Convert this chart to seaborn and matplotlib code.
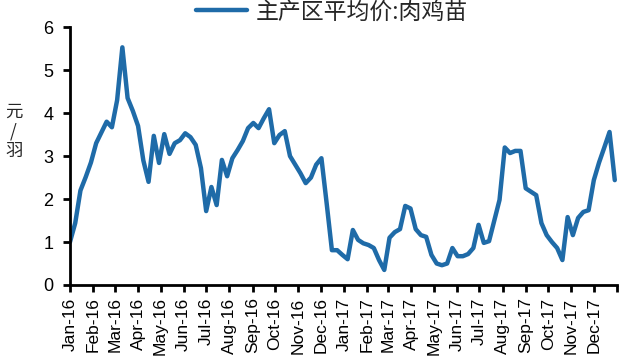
import pandas as pd
import numpy as np
import matplotlib
matplotlib.use('Agg')
import matplotlib.pyplot as plt
import matplotlib.dates as mdates
import seaborn as sns

# weekly price of broiler chicks, yuan per bird
start_date = '2016-01-01'
series_name = '主产区平均价:肉鸡苗'
price = [1.0, 1.44, 2.2, 2.51, 2.85, 3.3, 3.55, 3.8, 3.67, 4.3,
         5.53, 4.35, 4.05, 3.7, 2.9, 2.4, 3.47, 2.84, 3.51, 3.05,
         3.3, 3.37, 3.53, 3.44, 3.26, 2.72, 1.72, 2.28, 1.86, 2.91,
         2.53, 2.95, 3.14, 3.35, 3.65, 3.77, 3.65, 3.88, 4.09, 3.3,
         3.49, 3.58, 3.0, 2.8, 2.6, 2.37, 2.5, 2.8, 2.95, 1.9,
         0.81, 0.81, 0.7, 0.6, 1.28, 1.05, 0.97, 0.93, 0.86, 0.58,
         0.35, 1.1, 1.23, 1.3, 1.84, 1.78, 1.3, 1.16, 1.12, 0.7,
         0.5, 0.46, 0.5, 0.86, 0.67, 0.67, 0.72, 0.86, 1.4, 0.98,
         1.02, 1.5, 1.98, 3.2, 3.07, 3.12, 3.12, 2.25, 2.17, 2.09,
         1.44, 1.16, 1.0, 0.86, 0.58, 1.58, 1.16, 1.56, 1.7, 1.74,
         2.44, 2.85, 3.2, 3.56, 2.44]
y_ticks = [0, 1, 2, 3, 4, 5, 6]

df = pd.DataFrame({
    'date': pd.date_range(start_date, periods=len(price), freq='7D'),
    'price': price,
})

sns.set_style('ticks')
plt.rcParams['font.family'] = ['Liberation Sans', 'Noto Sans CJK SC', 'DejaVu Sans']

fig = plt.figure(figsize=(6.22, 3.57), dpi=100)
ax = fig.add_axes([0.1125, 0.2017, 0.8795, 0.7223])

sns.lineplot(data=df, x='date', y='price', ax=ax, color='#1F6BA8',
             linewidth=3.2, label=series_name, legend=False)

ax.set_xlim(pd.Timestamp('2016-01-01'), pd.Timestamp('2018-01-01'))
ax.set_ylim(0, 6)
ax.set_yticks(y_ticks)
ticks = mdates.date2num(pd.date_range('2016-01-01', '2018-01-01', freq='MS'))
labels = [d.strftime('%b-%y') for d in pd.date_range('2016-01-01', '2017-12-01', freq='MS')] + ['']
ax.set_xticks(ticks)
ax.set_xticklabels(labels, rotation=90)
ax.set_xlabel('')
ax.set_ylabel('')

for s in ['top', 'right']:
    ax.spines[s].set_visible(False)
for s in ['left', 'bottom']:
    ax.spines[s].set_linewidth(2)
    ax.spines[s].set_color('black')
ax.tick_params(axis='both', direction='out', length=5, width=2, colors='black')
ax.tick_params(axis='y', labelsize=13, pad=7)
ax.tick_params(axis='x', labelsize=12.5, pad=4)

fig.text(0.022, 0.633, '元\n/\n羽', fontsize=12.5, family=['Noto Sans CJK SC'],
         ha='center', va='center', linespacing=1.12)

handles, lbls = ax.get_legend_handles_labels()
fig.legend(handles, lbls, loc='center', bbox_to_anchor=(331.5 / 622, 1 - 12 / 357),
           frameon=False, handlelength=2.25, handletextpad=0.35,
           prop={'family': ['Noto Sans CJK SC'], 'size': 16.5})

plt.savefig('out.png', dpi=100)
